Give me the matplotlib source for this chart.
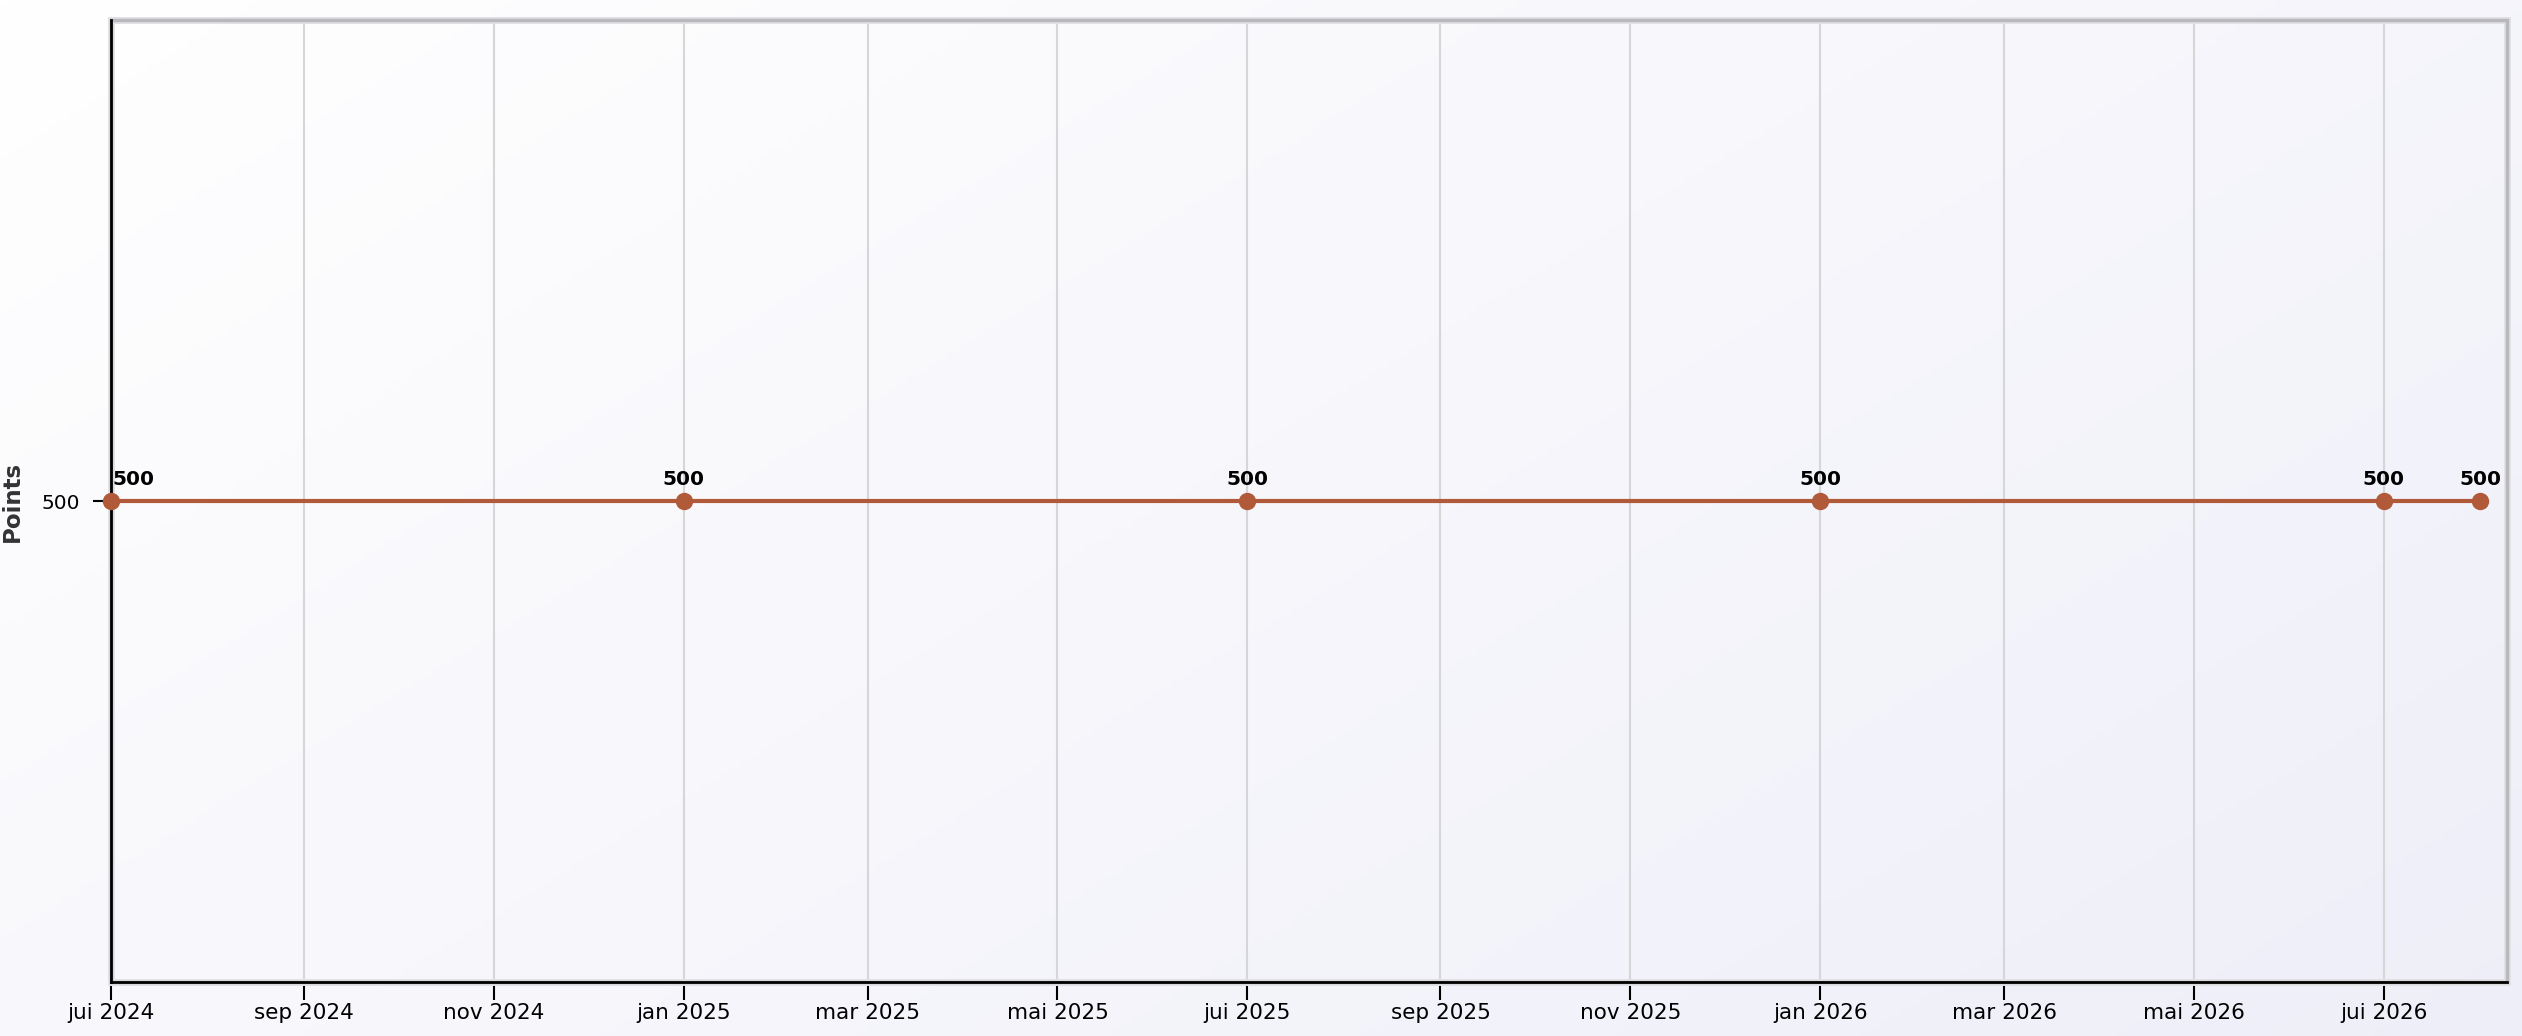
import numpy as np
import pandas as pd
import matplotlib
matplotlib.use('Agg')
import matplotlib.pyplot as plt
import matplotlib.dates as mdates
from matplotlib.ticker import FuncFormatter
from matplotlib.patches import Rectangle

# Data
dates = pd.to_datetime(['2024-07-01', '2025-01-01', '2025-07-01',
                        '2026-01-01', '2026-07-01', '2026-08-01'])
points = [500, 500, 500, 500, 500, 500]

# French month abbreviations used on the x axis
month_names = {1: 'jan', 3: 'mar', 5: 'mai', 7: 'jui', 9: 'sep', 11: 'nov'}

line_color = '#b05a3a'

plt.rcParams['font.family'] = ['DejaVu Sans']

fig = plt.figure(figsize=(25.22, 10.36), dpi=100)

# soft diagonal background gradient over the whole figure
bg = fig.add_axes([0, 0, 1, 1], zorder=-10)
gx, gy = np.meshgrid(np.linspace(0, 1, 256), np.linspace(0, 1, 256))
t = (gx * 0.6 + gy * 0.4)
c0 = np.array([1.0, 1.0, 1.0])
c1 = np.array([0.935, 0.935, 0.975])
img = c0[None, None, :] * (1 - t[..., None]) + c1[None, None, :] * t[..., None]
bg.imshow(img, aspect='auto', extent=[0, 1, 0, 1], origin='upper')
bg.axis('off')

ax = fig.add_axes([0.0440, 0.0521, 0.9500, 0.9286])
ax.set_facecolor('none')

ax.plot(dates, points, color=line_color, linewidth=3, marker='o',
        markersize=11.5, zorder=5, clip_on=False)

for i, (d, v) in enumerate(zip(dates, points)):
    ha = 'left' if i == 0 else 'center'
    ax.annotate(str(v), (d, v), xytext=(1 if i == 0 else 0, 9),
                textcoords='offset points', ha=ha, va='bottom',
                fontsize=14.5, fontweight='bold', color='black', zorder=6)

ax.set_xlim(pd.Timestamp('2024-07-01'), pd.Timestamp('2026-08-09 12:00'))
ax.set_ylim(0, 1000)
ax.set_yticks([500])

ax.xaxis.set_major_locator(mdates.MonthLocator(bymonth=list(month_names.keys())))
ax.xaxis.set_major_formatter(FuncFormatter(
    lambda x, pos: f"{month_names[mdates.num2date(x).month]} {mdates.num2date(x).year}"))

ax.grid(True, axis='x', color='#d6d6d9', linewidth=1.5, zorder=0)
ax.set_axisbelow(True)

ax.tick_params(axis='both', length=13, width=1.5, color='black',
               direction='out')
ax.tick_params(axis='x', pad=2, labelsize=15.5)
ax.tick_params(axis='y', pad=9, labelsize=14.5)

ax.set_ylabel('Points', fontsize=16.5, fontweight='bold', color='#333333')
ax.yaxis.set_label_coords(-0.0365, 0.5)

# frame: gray shadow border with black left/bottom axis lines
for s in ['top', 'right']:
    ax.spines[s].set_visible(False)
ax.add_patch(Rectangle((0, 0), 1, 1, transform=ax.transAxes, fill=False,
                       edgecolor='#e2e2e6', linewidth=5, clip_on=False, zorder=1))
ax.add_patch(Rectangle((0, 0), 1, 1, transform=ax.transAxes, fill=False,
                       edgecolor='#b9b9bd', linewidth=2.5, clip_on=False, zorder=2))
ax.spines['left'].set_color('black')
ax.spines['left'].set_linewidth(2)
ax.spines['left'].set_zorder(4)
ax.spines['bottom'].set_color('black')
ax.spines['bottom'].set_linewidth(2)
ax.spines['bottom'].set_zorder(4)

fig.savefig('out.png', dpi=100)
